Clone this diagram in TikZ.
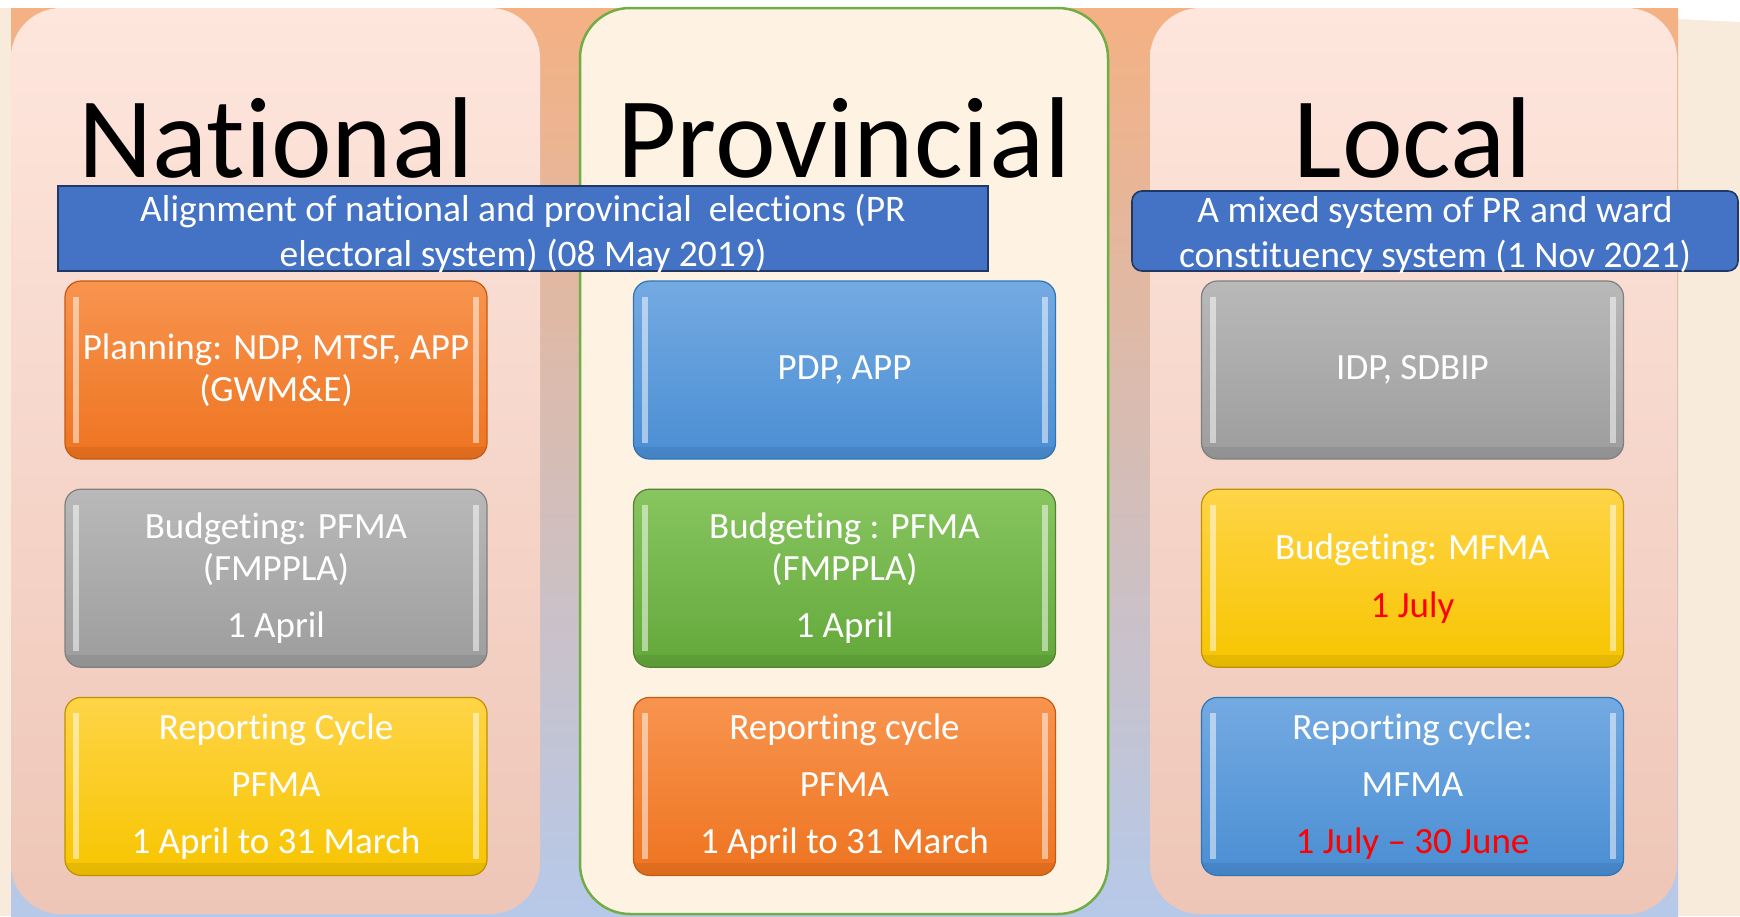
\documentclass[tikz,border=0pt]{standalone}
\usepackage{fontspec}
\setmainfont{Carlito}[Ligatures={TeX,NoCommon}]
\usetikzlibrary{positioning}
\definecolor{cream}{HTML}{F8EBDB}
\definecolor{bgtop}{HTML}{F4B183}
\definecolor{bgmid}{HTML}{D8B4A9}
\definecolor{bgbot}{HTML}{B6C9E9}
\definecolor{pinktop}{HTML}{FEE6DD}
\definecolor{pinkbot}{HTML}{EEC6B7}
\definecolor{provfill}{HTML}{FEF2E2}
\definecolor{provline}{HTML}{70AD47}
\definecolor{banblue}{HTML}{4472C4}
\definecolor{bannav}{HTML}{1F3864}
\definecolor{ortop}{HTML}{F8944F}
\definecolor{orbot}{HTML}{EE7420}
\definecolor{orline}{HTML}{C55A11}
\definecolor{grtop}{HTML}{B9B9B9}
\definecolor{grbot}{HTML}{9D9D9D}
\definecolor{grline}{HTML}{7F7F7F}
\definecolor{yetop}{HTML}{FFD447}
\definecolor{yebot}{HTML}{F7C500}
\definecolor{yeline}{HTML}{BF9000}
\definecolor{bltop}{HTML}{74AAE2}
\definecolor{blbot}{HTML}{4A8ED3}
\definecolor{blline}{HTML}{2E75B6}
\definecolor{gntop}{HTML}{88C560}
\definecolor{gnbot}{HTML}{63A83A}
\definecolor{gnline}{HTML}{548235}
\tikzstyle{pan}=[rounded corners=50pt, minimum height=906pt, inner sep=0pt]
\tikzstyle{ttl}=[anchor=base, inner sep=0pt, font=\fontsize{115}{115}\selectfont, text=black]
\tikzstyle{ban}=[draw=bannav, fill=banblue, line width=1.6pt, inner sep=0pt]
\tikzstyle{btx}=[text=white, align=center, inner sep=0pt, font=\fontsize{37.5}{45}\selectfont]
\tikzstyle{blk}=[rounded corners=16pt, line width=1.2pt, minimum width=422pt, minimum height=178pt, inner sep=0pt, align=center, text=white, font=\fontsize{37}{42}\selectfont,
  path picture={
    \fill[sharp corners, white, opacity=.5] ([xshift=8pt,yshift=-16pt]path picture bounding box.north west) rectangle ([xshift=14pt,yshift=16pt]path picture bounding box.south west);
    \fill[sharp corners, white, opacity=.5] ([xshift=-14pt,yshift=-16pt]path picture bounding box.north east) rectangle ([xshift=-8pt,yshift=16pt]path picture bounding box.south east);
    \fill[sharp corners, black, opacity=.07] ([yshift=12pt]path picture bounding box.south west) rectangle (path picture bounding box.south east);}]
\tikzset{orb/.style={blk, top color=ortop, bottom color=orbot, draw=orline},
  grb/.style={blk, top color=grtop, bottom color=grbot, draw=grline},
  yeb/.style={blk, top color=yetop, bottom color=yebot, draw=yeline},
  blb/.style={blk, top color=bltop, bottom color=blbot, draw=blline},
  gnb/.style={blk, top color=gntop, bottom color=gnbot, draw=gnline}}
\begin{document}
\begin{tikzpicture}[x=1pt, y=-1pt]
        \useasboundingbox (0,0) rectangle (1740,916);
        \fill[cream] (0,0) rectangle (1740,916);
        \fill[white] (0,0) rectangle (1740,8);
        \fill[white] (1678,0) -- (1740,0) -- (1740,22) -- (1678,19) -- cycle;
        \shade[top color=bgtop, middle color=bgmid, bottom color=bgbot] (11,8) rectangle (1678,916);
        % the three spheres
        \node (nat) [pan, minimum width=529pt, top color=pinktop, bottom color=pinkbot] at (275.5,461) {};
        \node (prov) [pan, minimum width=528pt, fill=provfill, draw=provline, line width=2.5pt] at (844,461) {};
        \node (loc) [pan, minimum width=527pt, top color=pinktop, bottom color=pinkbot] at (1413.5,461) {};
        \node (tn) [ttl] at (276,177) {National};
        \node (tp) [ttl] at (844,177) {Provincial};
        \node (tl) [ttl] at (1413,177) {Local};
        % electoral systems
        \node (bn) [ban, minimum width=930pt, minimum height=85pt] at (523,228.5) {};
        \node (bnt) [btx] at ([yshift=-5pt]bn.center) {Alignment of national and provincial\ \ elections (PR\\electoral system) (08 May 2019)};
        \node (bl) [ban, rounded corners=10pt, minimum width=606pt, minimum height=80pt] at (1435,231) {};
        \node (blt) [btx] at ([yshift=-4pt]bl.center) {A mixed system of PR and ward\\constituency system (1 Nov 2021)};
        % planning, budgeting, reporting
        \node (n1) [orb] at (276,370) {Planning: NDP, MTSF, APP\\(GWM\&E)};
        \node (n2) [grb, below=29pt of n1] {Budgeting: PFMA\\(FMPPLA)\\[15pt]1 April};
        \node (n3) [yeb, below=29pt of n2] {Reporting Cycle\\[15pt]PFMA\\[15pt]1 April to 31 March};
        \node (p1) [blb] at (844.5,370) {PDP, APP};
        \node (p2) [gnb, below=29pt of p1] {Budgeting : PFMA\\(FMPPLA)\\[15pt]1 April};
        \node (p3) [orb, below=29pt of p2] {Reporting cycle\\[15pt]PFMA\\[15pt]1 April to 31 March};
        \node (l1) [grb] at (1412.5,370) {IDP, SDBIP};
        \node (l2) [yeb, below=29pt of l1] {Budgeting: MFMA\\[16pt]\textcolor{red}{1 July}};
        \node (l3) [blb, below=29pt of l2] {Reporting cycle:\\[15pt]MFMA\\[15pt]\textcolor{red}{1 July – 30 June}};
\end{tikzpicture}
\end{document}
